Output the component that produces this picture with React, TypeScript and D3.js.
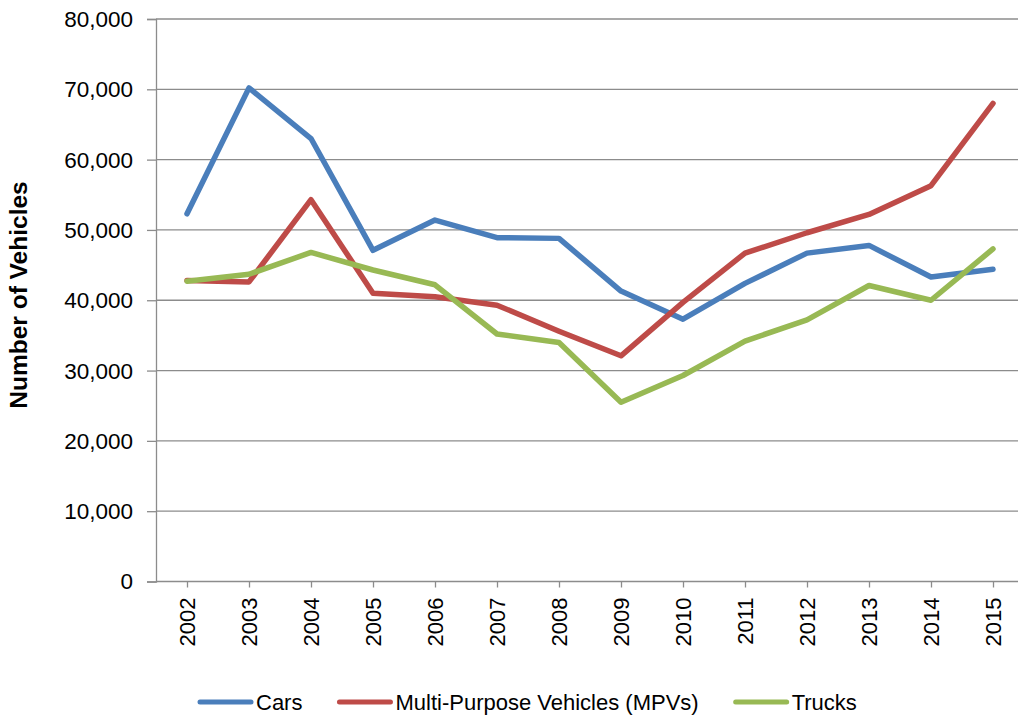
import { useEffect, useRef } from "react"
import * as d3 from "d3"

const years = ["2002", "2003", "2004", "2005", "2006", "2007", "2008", "2009", "2010", "2011", "2012", "2013", "2014", "2015"]
const cars = [52300, 70200, 63000, 47100, 51400, 48900, 48800, 41300, 37300, 42400, 46700, 47800, 43300, 44400]
const mpvs = [42800, 42600, 54300, 41000, 40500, 39300, 35600, 32100, 39700, 46700, 49600, 52200, 56300, 68000]
const trucks = [42700, 43700, 46800, 44300, 42200, 35200, 34000, 25500, 29300, 34200, 37200, 42100, 40000, 47300]
const yTicks = [0, 10000, 20000, 30000, 40000, 50000, 60000, 70000, 80000]

const series = [
  { name: "Cars", values: cars, color: "#4A7EBB" },
  { name: "Multi-Purpose Vehicles (MPVs)", values: mpvs, color: "#BE4B48" },
  { name: "Trucks", values: trucks, color: "#98B954" },
]

const FONT = "'Liberation Sans', Arial, sans-serif"

export default function App() {
  const svgRef = useRef<SVGSVGElement>(null)

  useEffect(() => {
    if (!svgRef.current) return
    const width = 1018
    const height = 717
    const margin = { top: 19, bottom: 581.5, left: 156, right: 1024 }

    const svg = d3.select(svgRef.current)
    svg.selectAll("*").remove()

    const x = d3.scalePoint<string>().domain(years).range([margin.left, margin.right]).padding(0.5)
    const y = d3.scaleLinear().domain([0, 80000]).range([margin.bottom, margin.top])

    // gridlines
    svg
      .append("g")
      .selectAll("line")
      .data(yTicks.slice(1))
      .join("line")
      .attr("x1", margin.left)
      .attr("x2", width)
      .attr("y1", (d) => y(d))
      .attr("y2", (d) => y(d))
      .attr("stroke", "#8c8c8c")
      .attr("stroke-width", 1.3)

    // y axis
    const yAxis = svg
      .append("g")
      .attr("transform", `translate(${margin.left},0)`)
      .call(
        d3
          .axisLeft(y)
          .tickValues(yTicks)
          .tickSize(9)
          .tickPadding(14)
          .tickFormat((d) => d3.format(",")(d as number)),
      )
    yAxis.select(".domain").attr("stroke", "#8c8c8c").attr("stroke-width", 1.3)
    yAxis.selectAll(".tick line").attr("stroke", "#8c8c8c").attr("stroke-width", 1.3)
    yAxis
      .selectAll(".tick text")
      .attr("fill", "#000")
      .attr("font-size", 22.5)
      .attr("font-family", FONT)
      .attr("dy", "0.33em")

    // x axis
    const xAxis = svg
      .append("g")
      .attr("transform", `translate(0,${margin.bottom})`)
      .call(d3.axisBottom(x).tickSize(6).tickSizeOuter(0))
    xAxis.select(".domain").attr("stroke", "#8c8c8c").attr("stroke-width", 1.3).attr("d", `M${margin.left},0H${width}`)
    xAxis.selectAll(".tick line").attr("stroke", "#8c8c8c").attr("stroke-width", 1.3)
    xAxis
      .selectAll(".tick text")
      .attr("fill", "#000")
      .attr("font-size", 22)
      .attr("font-family", FONT)
      .attr("text-anchor", "end")
      .attr("transform", "rotate(-90)")
      .attr("x", -16)
      .attr("y", 0)
      .attr("dy", "0.35em")

    // lines
    const line = d3
      .line<number>()
      .x((_, i) => x(years[i]) as number)
      .y((d) => y(d))

    series.forEach((s) => {
      svg
        .append("path")
        .datum(s.values)
        .attr("fill", "none")
        .attr("stroke", s.color)
        .attr("stroke-width", 5.5)
        .attr("stroke-linejoin", "round")
        .attr("stroke-linecap", "round")
        .attr("d", line)
    })

    // y axis title
    svg
      .append("text")
      .attr("transform", "translate(27,295) rotate(-90)")
      .attr("text-anchor", "middle")
      .attr("font-size", 24.5)
      .attr("font-weight", "bold")
      .attr("font-family", FONT)
      .attr("fill", "#000")
      .text("Number of Vehicles")

    // legend
    const legend = svg.append("g").attr("transform", "translate(0,702)")
    let lx = 200
    series.forEach((s) => {
      legend
        .append("line")
        .attr("x1", lx)
        .attr("x2", lx + 51)
        .attr("stroke", s.color)
        .attr("stroke-width", 5)
        .attr("stroke-linecap", "round")
      const t = legend
        .append("text")
        .attr("x", lx + 56)
        .attr("dy", "0.35em")
        .attr("font-size", 22)
        .attr("font-family", FONT)
        .attr("fill", "#000")
        .text(s.name)
      const tw = (t.node() as SVGTextElement).getComputedTextLength()
      lx = lx + 56 + tw + 37
    })

    svg.attr("width", width).attr("height", height)
  }, [])

  return (
    <div style={{ position: "absolute", left: 0, top: 0 }}>
      <svg ref={svgRef} width={1018} height={717} style={{ display: "block", overflow: "hidden" }} />
    </div>
  )
}
